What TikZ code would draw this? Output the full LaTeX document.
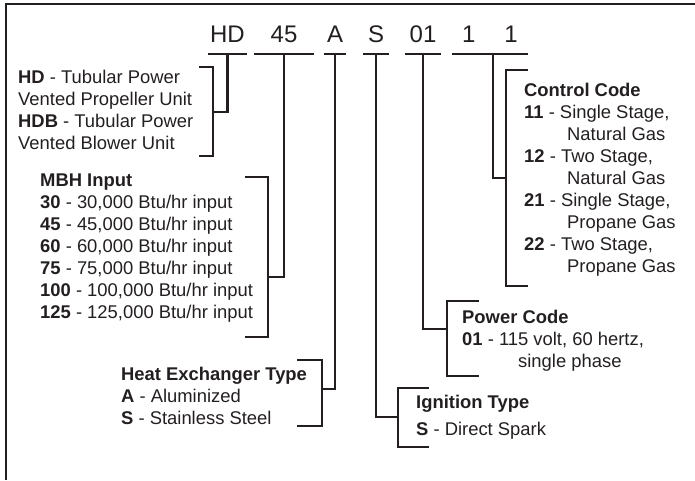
\documentclass[tikz,border=0pt]{standalone}
\usepackage{fontspec}
\setmainfont{Liberation Sans}
\definecolor{ink}{HTML}{231F20}

\begin{document}
\begin{tikzpicture}[
  x=1pt, y=-1pt,
  color=ink,
  code/.style={font=\fontsize{24}{28}\selectfont, inner xsep=0pt, inner ysep=11pt, anchor=south},
  info/.style={font=\fontsize{18.4}{22}\selectfont, anchor=north west, align=left, inner sep=0pt},
  rule/.style={line width=2.2pt},
  frame/.style={line width=2.6pt},
]
\useasboundingbox (0,0) rectangle (695,480);

% Frame (only top and left show)
\draw[frame] (695,4) -- (6,4) -- (6,480);

% Model number parts
\node[code, minimum width=39pt] (hd) at (227.5,54) {HD};
\node[code, minimum width=59pt] (mbh) at (284,54) {45};
\node[code, minimum width=22pt] (hx) at (335,54) {A};
\node[code, minimum width=26pt] (ig) at (376,54) {S};
\node[code, minimum width=36pt] (pw) at (423,54) {01};
\node[code, minimum width=75pt] (cc) at (490,54) {1\hspace{29pt}1};

\foreach \c in {hd,mbh,hx,ig,pw,cc}
  \draw[rule] (\c.south west) -- (\c.south east);

% Description blocks
\node[info] (hdInfo) at (18,70) {\textbf{HD} - Tubular Power\\Vented Propeller Unit\\\textbf{HDB} - Tubular Power\\Vented Blower Unit};
\node[info] (mbhInfo) at (40,174) {\textbf{MBH Input}\\\textbf{30} - 30,000 Btu/hr input\\\textbf{45} - 45,000 Btu/hr input\\\textbf{60} - 60,000 Btu/hr input\\\textbf{75} - 75,000 Btu/hr input\\\textbf{100} - 100,000 Btu/hr input\\\textbf{125} - 125,000 Btu/hr input};
\node[info] (hxInfo) at (121,367) {\textbf{Heat Exchanger Type}\\\textbf{A} - Aluminized\\\textbf{S} - Stainless Steel};
\node[info] (igInfo) at (416,395) {\textbf{Ignition Type}\\[5pt]\textbf{S} - Direct Spark};
\node[info] (pwInfo) at (462,310) {\textbf{Power Code}\\\textbf{01} - 115 volt, 60 hertz,\\\hspace*{56pt}single phase};
\node[info] (ccInfo) at (524,83) {\textbf{Control Code}\\\textbf{11} - Single Stage,\\\hspace*{43pt}Natural Gas\\\textbf{12} - Two Stage,\\\hspace*{43pt}Natural Gas\\\textbf{21} - Single Stage,\\\hspace*{43pt}Propane Gas\\\textbf{22} - Two Stage,\\\hspace*{43pt}Propane Gas};

% Bracket spines and joins
\coordinate (hdTop) at (213,67);   \coordinate (hdBot) at (213,156);  \coordinate (hdJoin) at (213,112);
\coordinate (mbhTop) at (268,177); \coordinate (mbhBot) at (268,337); \coordinate (mbhJoin) at (268,277);
\coordinate (hxTop) at (322,360);  \coordinate (hxBot) at (322,426);  \coordinate (hxJoin) at (322,389);
\coordinate (igTop) at (398,388);  \coordinate (igBot) at (398,447);  \coordinate (igJoin) at (398,417);
\coordinate (pwTop) at (447,301);  \coordinate (pwBot) at (447,376);  \coordinate (pwJoin) at (447,329);
\coordinate (ccTop) at (506,70);   \coordinate (ccBot) at (506,286);  \coordinate (ccJoin) at (506,178);

% Brackets
\draw[rule] ([xshift=-14pt]hdTop) -- (hdTop) -- (hdBot) -- ([xshift=-14pt]hdBot);
\draw[rule] ([xshift=-23pt]mbhTop) -- (mbhTop) -- (mbhBot) -- ([xshift=-23pt]mbhBot);
\draw[rule] ([xshift=-25pt]hxTop) -- (hxTop) -- (hxBot) -- ([xshift=-25pt]hxBot);
\draw[rule] ([xshift=31pt]igTop) -- (igTop) -- (igBot) -- ([xshift=31pt]igBot);
\draw[rule] ([xshift=32pt]pwTop) -- (pwTop) -- (pwBot) -- ([xshift=32pt]pwBot);
\draw[rule] ([xshift=22pt]ccTop) -- (ccTop) -- (ccBot) -- ([xshift=22pt]ccBot);

% Stems from the code parts
\draw[rule] (hd.south) |- (hdJoin);
\draw[rule] (mbh.south) |- (mbhJoin);
\draw[rule] (hx.south) |- (hxJoin);
\draw[rule] (ig.south) |- (igJoin);
\draw[rule] (pw.south) |- (pwJoin);
\draw[rule] ([xshift=3pt]cc.south) |- (ccJoin);

\end{tikzpicture}
\end{document}
